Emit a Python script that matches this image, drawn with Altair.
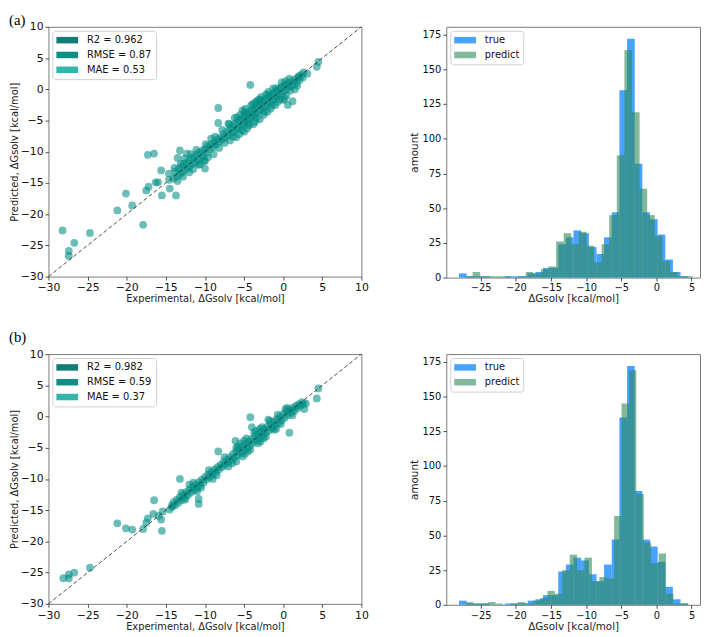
import altair as alt
import pandas as pd

FONT = "DejaVu Sans"
MINUS = "replace(datum.label, '-', '\u2212')"

# ---------------- scatter (a): experimental vs predicted ----------------
a_outliers = [
    (-28.2, -22.6), (-27.4, -25.9), (-27.4, -26.7), (-26.7, -24.6), (-24.7, -23.0),
    (-21.2, -19.4), (-20.1, -16.7), (-19.3, -18.6), (-17.9, -21.7), (-17.3, -10.5),
    (-16.5, -10.3), (-17.5, -16.2), (-17.2, -15.6), (-16.3, -14.9), (-16.0, -14.9),
    (-15.5, -17.0), (-15.6, -13.0), (-14.6, -13.5), (-14.6, -14.5), (-14.5, -15.9),
    (-13.7, -17.0), (-13.5, -14.7), (-13.2, -9.8), (-13.5, -11.0), (-10.0, -12.7),
    (-10.0, -11.5), (-8.9, -10.4), (-8.3, -3.0), (-8.3, -5.4), (-4.2, 0.7),
    (-3.6, -2.2), (1.2, -1.9), (0.6, -2.5), (0.0, -1.7), (4.3, 3.6), (4.5, 4.4),
    (3.1, 2.5), (2.0, 2.1),
]
a_band = [
    (-14.0, -14.3), (-13.8, -13.2), (-13.6, -14.0), (-13.4, -12.8), (-13.2, -13.6),
    (-13.0, -12.4), (-12.9, -13.3), (-12.7, -12.0), (-12.5, -12.9), (-12.4, -11.8),
    (-12.2, -12.6), (-12.0, -11.4), (-11.9, -12.3), (-11.7, -11.1), (-11.5, -11.9),
    (-11.4, -10.8), (-11.2, -11.7), (-11.0, -10.4), (-10.9, -11.3), (-10.7, -10.1),
    (-10.5, -10.9), (-10.3, -9.8), (-10.2, -10.7), (-10.0, -9.6), (-9.8, -10.2),
    (-9.6, -9.1), (-9.4, -9.6), (-9.2, -8.8), (-9.0, -9.3), (-8.8, -8.5),
    (-8.6, -8.9), (-8.4, -8.0), (-8.2, -8.4), (-8.0, -7.7), (-7.8, -8.1),
    (-7.6, -7.2), (-7.4, -7.7), (-7.2, -6.8), (-7.0, -7.4), (-6.8, -6.4),
    (-6.6, -7.0), (-6.5, -6.0), (-6.3, -6.8), (-6.2, -5.6), (-6.0, -6.4),
    (-5.9, -5.3), (-5.7, -6.2), (-5.6, -5.0), (-5.4, -5.9), (-5.3, -4.7),
    (-5.1, -5.6), (-5.0, -4.4), (-4.9, -5.3), (-4.7, -4.1), (-4.6, -5.0),
    (-4.5, -3.8), (-4.3, -4.7), (-4.2, -3.6), (-4.0, -4.4), (-3.9, -3.3),
    (-3.8, -4.2), (-3.6, -3.0), (-3.5, -3.9), (-3.3, -2.7), (-3.2, -3.6),
    (-3.0, -2.4), (-2.9, -3.3), (-2.7, -2.1), (-2.6, -3.0), (-2.4, -1.8),
    (-2.3, -2.7), (-2.1, -1.5), (-2.0, -2.4), (-1.8, -1.2), (-1.7, -2.1),
    (-1.5, -0.9), (-1.4, -1.8), (-1.2, -0.6), (-1.1, -1.5), (-0.9, -0.3),
    (-0.8, -1.2), (-0.6, 0.0), (-0.5, -0.9), (-0.3, 0.3), (-0.2, -0.6),
    (0.0, 0.5), (0.1, -0.3), (0.3, 0.8), (0.5, 0.1), (0.7, 1.0),
    (0.9, 0.4), (1.1, 1.3), (1.3, 0.7), (1.5, 1.6), (1.7, 1.1),
    (1.9, 1.9), (2.1, 1.5), (2.3, 2.3), (2.5, 1.9), (2.6, 2.7),
    (-6.8, -8.2), (-6.2, -4.6), (-5.6, -7.2), (-5.2, -3.4), (-4.6, -6.3),
    (-4.1, -2.6), (-3.6, -5.2), (-3.1, -1.6), (-2.5, -4.1), (-2.2, -0.8),
    (-1.6, -3.1), (-1.3, 0.1), (-0.7, -2.0), (-0.2, 1.1), (0.4, -1.0),
    (0.8, 1.7), (-7.8, -6.5), (-8.2, -9.4), (-9.2, -7.9), (-10.1, -11.4),
    (-11.1, -9.7), (-12.0, -13.3), (-12.6, -11.1), (-13.1, -11.9), (-12.3, -10.3),
    (-11.5, -12.8), (-7.0, -5.5), (-3.0, -4.8), (-5.0, -6.8), (0.2, -1.5),
    (1.5, 0.0), (-9.6, -10.9), (-6.0, -7.7), (-5.5, -4.1), (-4.8, -3.1),
    (-3.4, -1.9), (-2.8, -1.2), (-1.9, -0.4), (-4.4, -5.8), (-3.8, -5.6),
    (-2.0, -3.6), (-1.0, -2.5), (-11.8, -10.4), (-10.6, -12.0),
    (-7.5, -8.6), (-6.9, -5.6), (-6.4, -7.6), (-5.9, -4.5), (-5.3, -6.6),
    (-4.9, -3.6), (-4.4, -5.5), (-3.9, -2.4), (-3.4, -4.6), (-2.9, -1.7),
    (-2.4, -3.6), (-1.9, -0.9), (-1.4, -2.6), (-0.9, 0.2), (-0.4, -1.6),
    (0.3, 1.3), (0.9, -0.2), (1.8, 0.6), (-8.7, -7.6), (-9.9, -8.8),
    (-10.8, -12.1), (-12.8, -14.0), (-13.9, -12.6),
]

# ---------------- scatter (b) ----------------
b_outliers = [
    (-28.1, -25.9), (-27.4, -25.3), (-27.4, -25.9), (-26.7, -25.0), (-24.7, -24.2),
    (-21.2, -17.1), (-20.1, -17.9), (-19.3, -18.1), (-17.9, -18.0), (-17.3, -16.3),
    (-17.5, -17.0), (-16.5, -13.4), (-16.6, -15.6), (-15.9, -15.9), (-15.5, -18.3),
    (-15.6, -16.5), (-15.4, -15.2), (-14.5, -14.9), (-14.2, -14.2), (-13.2, -10.0),
    (-10.8, -14.0), (-10.8, -13.2), (-8.3, -5.6), (-6.0, -7.2), (-4.2, -0.1),
    (-4.0, -1.7), (0.8, -2.6), (4.3, 2.9), (4.5, 4.5), (2.7, 1.2), (2.9, 2.1),
    (-6.1, -3.9),
]
b_band = [
    (-14.2, -14.5), (-14.0, -13.7), (-13.8, -14.2), (-13.6, -13.3), (-13.4, -13.8),
    (-13.2, -12.9), (-13.0, -13.4), (-12.8, -12.5), (-12.6, -13.0), (-12.4, -12.1),
    (-12.2, -12.6), (-12.0, -11.7), (-11.8, -12.2), (-11.6, -11.3), (-11.4, -11.8),
    (-11.2, -10.9), (-11.0, -11.4), (-10.8, -10.5), (-10.6, -11.0), (-10.4, -10.1),
    (-10.2, -10.6), (-10.0, -9.7), (-9.8, -10.1), (-9.6, -9.3), (-9.4, -9.7),
    (-9.2, -8.9), (-9.0, -9.3), (-8.8, -8.5), (-8.6, -8.9), (-8.4, -8.1),
    (-8.2, -8.5), (-8.0, -7.7), (-7.8, -8.1), (-7.6, -7.3), (-7.4, -7.7),
    (-7.2, -6.9), (-7.0, -7.3), (-6.8, -6.5), (-6.6, -6.9), (-6.4, -6.0),
    (-6.2, -6.6), (-6.0, -5.6), (-5.8, -6.2), (-5.6, -5.2), (-5.4, -5.8),
    (-5.2, -4.8), (-5.0, -5.4), (-4.8, -4.4), (-4.6, -5.0), (-4.4, -4.0),
    (-4.2, -4.6), (-4.0, -3.6), (-3.8, -4.2), (-3.6, -3.2), (-3.4, -3.8),
    (-3.2, -2.8), (-3.0, -3.4), (-2.8, -2.4), (-2.6, -3.0), (-2.4, -2.0),
    (-2.2, -2.6), (-2.0, -1.6), (-1.8, -2.2), (-1.6, -1.2), (-1.4, -1.8),
    (-1.2, -0.8), (-1.0, -1.4), (-0.8, -0.4), (-0.6, -1.0), (-0.4, 0.0),
    (-0.2, -0.6), (0.0, 0.4), (0.2, -0.2), (0.4, 0.8), (0.6, 0.2),
    (0.8, 1.1), (1.0, 0.6), (1.2, 1.4), (1.4, 0.9), (1.6, 1.7),
    (1.8, 1.3), (2.0, 2.0), (2.2, 1.7), (2.4, 2.3), (2.6, 2.0),
    (-6.5, -7.5), (-5.8, -4.8), (-5.2, -6.4), (-4.7, -3.5), (-4.2, -5.3),
    (-3.7, -2.6), (-3.2, -4.3), (-2.7, -1.7), (-2.2, -3.2), (-1.7, -0.7),
    (-1.2, -2.1), (-0.7, 0.3), (-7.5, -6.5), (-8.5, -9.4), (-9.5, -8.6),
    (-10.5, -11.4), (-11.5, -10.6), (-12.5, -13.3), (-13.0, -12.2), (-6.0, -5.0),
    (-0.3, -1.2), (0.5, 1.4), (1.2, 0.2), (-5.0, -3.9), (-3.0, -2.0),
    (-4.5, -5.6), (-2.5, -3.5),
    (-7.0, -8.0), (-5.5, -4.3), (-4.9, -6.0), (-3.5, -2.3), (-2.9, -4.0),
    (-1.9, -0.5), (-0.9, -2.0), (0.3, 1.2), (-9.0, -10.0), (-11.0, -12.0),
    (-12.0, -10.9),
]

a_metric_labels = ["R2 = 0.962", "RMSE = 0.87", "MAE = 0.53"]
b_metric_labels = ["R2 = 0.982", "RMSE = 0.59", "MAE = 0.37"]
metric_colors = ["#137c77", "#0f8d86", "#34b5ab"]

diag_x = [-30, 10]
diag_y = [-30, 10]

# ---------------- histograms ----------------
true_edges = [-28.10, -27.01, -25.93, -24.84, -23.75, -22.67, -21.58, -20.49, -19.40, -18.32,
              -17.23, -16.14, -15.06, -13.97, -12.88, -11.80, -10.71, -9.62, -8.53, -7.45,
              -6.36, -5.27, -4.18, -3.09, -2.01, -0.92, 0.17, 1.26, 2.34, 3.43, 4.52]
true_counts = [3, 1, 1, 1, 0, 0, 1, 1, 1, 3, 4, 7, 7, 24, 29, 34, 32, 22, 17, 29,
               47, 135, 172, 82, 47, 42, 31, 13, 4, 1]

pred_a_edges = [-27.24, -26.16, -25.08, -24.00, -22.92, -21.84, -20.76, -19.68, -18.60, -17.52,
                -16.44, -15.36, -14.28, -13.20, -12.12, -11.04, -9.96, -8.88, -7.80, -6.72,
                -5.64, -4.56, -3.48, -2.40, -1.32, -0.24, 0.84, 1.92, 3.00, 4.08, 5.16]
pred_a_counts = [1, 4, 1, 1, 1, 1, 0, 1, 4, 3, 6, 8, 26, 32, 24, 33, 23, 11, 24, 45,
                 88, 164, 119, 64, 45, 30, 12, 4, 1, 1]

pred_b_edges = [-27.10, -26.05, -24.99, -23.94, -22.88, -21.83, -20.78, -19.72, -18.67, -17.61,
                -16.56, -15.51, -14.45, -13.40, -12.34, -11.29, -10.24, -9.18, -8.13, -7.07,
                -6.02, -4.97, -3.91, -2.86, -1.80, -0.75, 0.31, 1.36, 2.42, 3.47, 4.52]
pred_b_counts = [2, 1, 1, 2, 1, 0, 1, 2, 1, 3, 5, 10, 8, 25, 36, 25, 34, 17, 20, 19,
                 64, 145, 169, 80, 45, 30, 37, 8, 1, 1]

series_names = ["true", "predict"]
series_colors = ["#1e8fff", "#2e8b57"]
series_opacity = [0.82, 0.6]

scatter_ticks = [-30, -25, -20, -15, -10, -5, 0, 5, 10]
hist_xticks = [-25, -20, -15, -10, -5, 0, 5]
hist_yticks = [0, 25, 50, 75, 100, 125, 150, 175]

# legend patch: a flat rectangle drawn to the right of the nominal symbol centre
LEG_PATH = "M-1,-0.6H3V0.6H-1Z"


def legend_common(**kw):
    return alt.Legend(
        title=None, orient="top-left", fillColor="white", strokeColor="#cfcfcf",
        cornerRadius=3, padding=4, symbolType=LEG_PATH, symbolSize=121,
        symbolStrokeWidth=0, labelFont=FONT, labelFontSize=10, labelColor="#111",
        labelOffset=20, rowPadding=4, **kw)


def tag_layer(tag, dy, visible=True):
    return alt.Chart(pd.DataFrame({"t": [tag]})).mark_text(
        font="Liberation Serif", fontSize=15, align="left", baseline="middle",
        color="black", opacity=1 if visible else 0,
    ).encode(text="t:N", x=alt.value(-40 if visible else 0), y=alt.value(dy))


def scatter_panel(points, labels, tag, tag_dy):
    df = pd.DataFrame(points, columns=["exp", "pred"])
    xs = alt.Scale(domain=[-30, 10], nice=False, zero=False)
    ys = alt.Scale(domain=[-30, 10], nice=False, zero=False)
    xa = alt.Axis(title="Experimental, \u0394Gsolv [kcal/mol]", values=scatter_ticks,
                  labelExpr=MINUS, labelFontSize=11, titleFontSize=10,
                  labelFlush=False, labelOverlap=False, titlePadding=1)
    ya = alt.Axis(title="Predicted, \u0394Gsolv [kcal/mol]", values=scatter_ticks,
                  labelExpr=MINUS, labelFontSize=11, titleFontSize=10,
                  labelFlush=False, labelOverlap=False, titlePadding=1)
    pts = alt.Chart(df).mark_circle(size=62, color="#008f85", opacity=0.58).encode(
        x=alt.X("exp:Q", scale=xs, axis=xa),
        y=alt.Y("pred:Q", scale=ys, axis=ya),
    )
    ddf = pd.DataFrame({"exp": diag_x, "pred": diag_y})
    diag = alt.Chart(ddf).mark_line(color="#333333", strokeWidth=0.9,
                                    strokeDash=[4, 2.5]).encode(
        x=alt.X("exp:Q", scale=xs, axis=xa),
        y=alt.Y("pred:Q", scale=ys, axis=ya),
    )
    mdf = pd.DataFrame({"metric": labels})
    leg = alt.Chart(mdf).mark_square(opacity=0, size=0).encode(
        color=alt.Color("metric:N",
                        scale=alt.Scale(domain=labels, range=metric_colors),
                        legend=legend_common(offset=4, symbolOpacity=1)),
    )
    return alt.layer(pts, diag, leg, tag_layer(tag, tag_dy)).properties(width=317, height=253)


def hist_panel(pred_edges, pred_counts, tag, tag_dy):
    rows = []
    for i, n in enumerate(true_counts):
        rows.append({"lo": true_edges[i], "hi": true_edges[i + 1], "n": n, "z": 0, "s": "true"})
    for i, n in enumerate(pred_counts):
        rows.append({"lo": pred_edges[i], "hi": pred_edges[i + 1], "n": n, "z": 0, "s": "predict"})
    df = pd.DataFrame(rows)
    xa = alt.Axis(title="\u0394Gsolv [kcal/mol]", values=hist_xticks, labelExpr=MINUS,
                  labelFontSize=10, titleFontSize=10.5, labelFlush=False,
                  labelOverlap=False, titlePadding=1)
    ya = alt.Axis(title="amount", values=hist_yticks, labelFontSize=10,
                  titleFontSize=10.5, labelFlush=False, labelOverlap=False, titlePadding=3)
    leg = legend_common(offset=4)
    bars = alt.Chart(df).mark_rect(strokeWidth=0).encode(
        x=alt.X("lo:Q", scale=alt.Scale(domain=[-29.9, 6.2], nice=False, zero=False), axis=xa),
        x2="hi:Q",
        y=alt.Y("n:Q", scale=alt.Scale(domain=[0, 180.6], nice=False, zero=True), axis=ya),
        y2="z:Q",
        color=alt.Color("s:N", scale=alt.Scale(domain=series_names, range=series_colors),
                        legend=leg),
        opacity=alt.Opacity("s:N", scale=alt.Scale(domain=series_names, range=series_opacity),
                            legend=leg),
    )
    return alt.layer(bars, tag_layer(tag, tag_dy, visible=False)).properties(width=257, height=254)


def row(points, labels, pred_edges, pred_counts, tag, tag_dy):
    return alt.hconcat(
        scatter_panel(points, labels, tag, tag_dy),
        hist_panel(pred_edges, pred_counts, tag, tag_dy),
        spacing=39,
    ).resolve_scale(color="independent", opacity="independent", x="independent", y="independent"
    ).resolve_legend(color="independent", opacity="independent")


row_a = row(a_outliers + a_band, a_metric_labels, pred_a_edges, pred_a_counts, "(a)", -7)
row_b = row(b_outliers + b_band, b_metric_labels, pred_b_edges, pred_b_counts, "(b)", -17.5)

chart = alt.vconcat(row_a, row_b, spacing=24.5).resolve_scale(
    color="independent", opacity="independent", x="independent", y="independent"
).resolve_legend(color="independent", opacity="independent"
).properties(padding={"left": 0, "top": 0, "right": 0, "bottom": 0}, background="white"
).configure_view(stroke="#7a7a7a", strokeWidth=1
).configure_axis(domain=False, grid=False, tickColor="#222", tickSize=3.5, tickWidth=0.8,
                 labelColor="#111", titleColor="#222", labelFont=FONT, titleFont=FONT,
                 titleFontWeight="normal", labelPadding=2)

chart.save("out.html", embed_options={"renderer": "svg", "actions": False})
